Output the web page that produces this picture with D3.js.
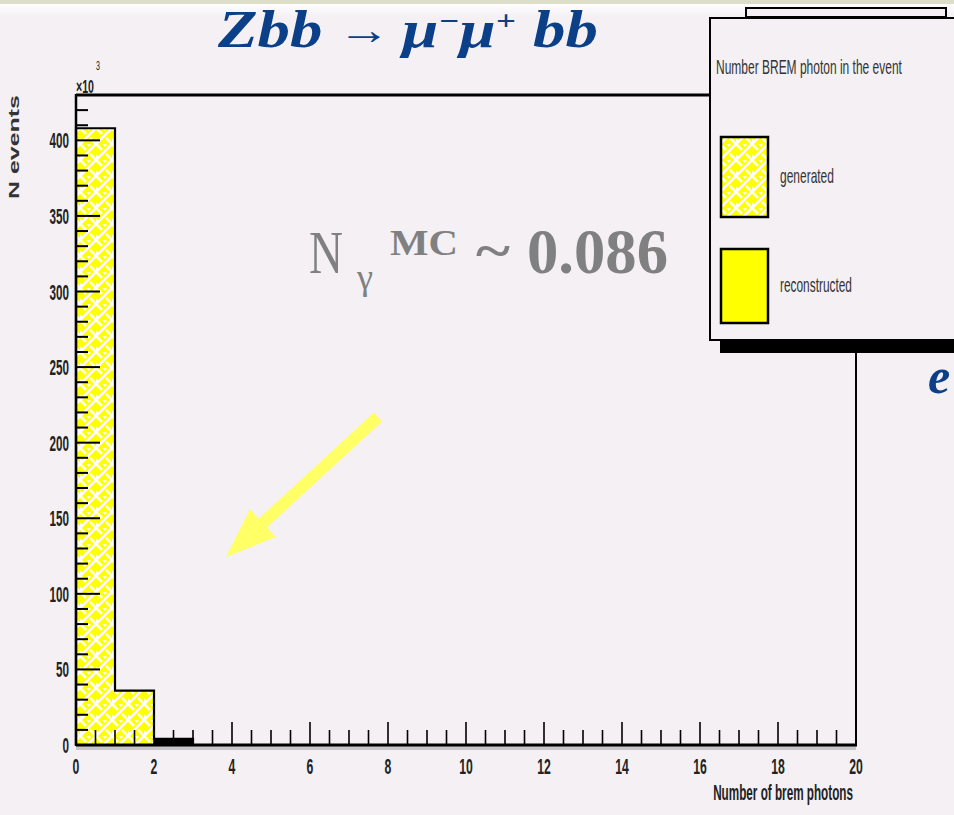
<!DOCTYPE html>
<html><head><meta charset="utf-8">
<script src="https://cdn.jsdelivr.net/npm/d3@7/dist/d3.min.js"></script>
<style>html,body{margin:0;padding:0;background:#f4f0f4;}svg{display:block;}</style>
</head><body>
<svg id="c" width="954" height="815"></svg>
<script>
// ---- data ----
const binEdges = d3.range(0, 21, 1);               // 20 bins of width 1, 0..20
const generatedCounts = [408, 36, 4, 0, 0, 0, 0, 0, 0, 0, 0, 0, 0, 0, 0, 0, 0, 0, 0, 0]; // x10^3
const reconstructedCounts = [408, 36, 4, 0, 0, 0, 0, 0, 0, 0, 0, 0, 0, 0, 0, 0, 0, 0, 0, 0];
const xTickLabels = [0, 2, 4, 6, 8, 10, 12, 14, 16, 18, 20];
const yTickLabels = [0, 50, 100, 150, 200, 250, 300, 350, 400];
const legendTitle = "Number BREM photon in the event";
const legendLabels = ["generated", "reconstructed"];
const xTitle = "Number of brem photons";
const yTitle = "N events";

const svg = d3.select("#c");
const bg = "#f4f0f4";
const labelFont = "'Liberation Sans', Arial, sans-serif";
const serif = "'Liberation Serif', 'Times New Roman', serif";

// helper: draw text, then squeeze/stretch horizontally to a target width
function fitText(parent, ax, by, target, anchor, build, extra) {
  const g = parent.append("g").attr("transform", `translate(${ax},${by})`);
  const t = g.append("text").attr("x", 0).attr("y", 0).attr("text-anchor", anchor || "start");
  build(t);
  const w = t.node().getComputedTextLength();
  const s = target / w;
  g.attr("transform", `translate(${ax},${by}) ${extra || ""} scale(${s},1)`);
  return t;
}

// background
svg.append("rect").attr("width", 954).attr("height", 815).attr("fill", bg);
const defs = svg.append("defs");
const g1 = defs.append("linearGradient").attr("id", "topg").attr("x1", 0).attr("x2", 0).attr("y1", 0).attr("y2", 1);
g1.append("stop").attr("offset", 0).attr("stop-color", "#ffffff");
g1.append("stop").attr("offset", 1).attr("stop-color", bg);
svg.append("rect").attr("x", 0).attr("y", 3).attr("width", 954).attr("height", 14).attr("fill", "url(#topg)");
svg.append("rect").attr("x", 0).attr("y", 0).attr("width", 954).attr("height", 4).attr("fill", "#dcdec8");

// hatch pattern
const pat = defs.append("pattern").attr("id", "hatch").attr("patternUnits", "userSpaceOnUse")
  .attr("width", 16).attr("height", 16);
pat.append("rect").attr("width", 16).attr("height", 16).attr("fill", "#ffff00");
pat.append("path").attr("d", "M-2,18 L18,-2 M-2,2 L2,-2 M14,18 L18,14").attr("stroke", "#fff").attr("stroke-width", 2.6);
pat.append("path").attr("d", "M-2,-2 L6,6 M10,10 L18,18 M6,-2 L10,2 M-2,10 L2,14").attr("stroke", "#fff").attr("stroke-width", 2.6);

// scales
const x = d3.scaleLinear().domain([0, 20]).range([76, 856]);
const y = d3.scaleLinear().domain([0, 430]).range([745, 95]);

// reconstructed (solid) then generated (hatched)
const bins = generatedCounts.map((v, i) => ({x0: binEdges[i], x1: binEdges[i + 1], g: v, r: reconstructedCounts[i]}));
svg.append("g").selectAll("rect").data(bins.filter(d => d.r > 0)).join("rect")
  .attr("x", d => x(d.x0)).attr("width", d => x(d.x1) - x(d.x0))
  .attr("y", d => y(d.r)).attr("height", d => y(0) - y(d.r)).attr("fill", "#ffff00");
svg.append("g").selectAll("rect").data(bins.filter(d => d.g > 0)).join("rect")
  .attr("x", d => x(d.x0)).attr("width", d => x(d.x1) - x(d.x0))
  .attr("y", d => y(d.g)).attr("height", d => y(0) - y(d.g)).attr("fill", "url(#hatch)");
svg.append("g").selectAll("rect").data(bins.filter(d => d.g > 0 && d.g < 10)).join("rect")
  .attr("x", d => x(d.x0)).attr("width", d => x(d.x1) - x(d.x0))
  .attr("y", d => y(d.g)).attr("height", d => y(0) - y(d.g)).attr("fill", "#000");
const stepPts = [];
bins.forEach(d => { stepPts.push([x(d.x0), y(d.g)]); stepPts.push([x(d.x1), y(d.g)]); });
svg.append("path").attr("d", d3.line()([[x(0), y(0)], ...stepPts, [x(20), y(0)]]))
  .attr("fill", "none").attr("stroke", "#000").attr("stroke-width", 2.2);

// frame
svg.append("line").attr("x1", x(0)).attr("x2", x(0)).attr("y1", y(430) - 1).attr("y2", y(0) + 1).attr("stroke", "#000").attr("stroke-width", 2.5);
svg.append("line").attr("x1", x(0)).attr("x2", 712).attr("y1", y(430)).attr("y2", y(430)).attr("stroke", "#000").attr("stroke-width", 3);
svg.append("line").attr("x1", x(20)).attr("x2", x(20)).attr("y1", 350).attr("y2", y(0)).attr("stroke", "#000").attr("stroke-width", 2);
svg.append("rect").attr("x", x(0)).attr("y", y(0) + 1).attr("width", x(20) - x(0)).attr("height", 4).attr("fill", "#999").attr("opacity", 0.5);
svg.append("line").attr("x1", x(0)).attr("x2", x(20) + 1).attr("y1", y(0)).attr("y2", y(0)).attr("stroke", "#000").attr("stroke-width", 3);

// x ticks
const xMinor = d3.range(0, 20.01, 0.5);
svg.append("g").selectAll("line").data(xMinor).join("line")
  .attr("x1", d => x(d)).attr("x2", d => x(d))
  .attr("y1", y(0)).attr("y2", d => y(0) - (d % 2 === 0 ? 23 : 15))
  .attr("stroke", "#000").attr("stroke-width", 1.6);
xTickLabels.forEach(d => fitText(svg, x(d), 774, String(d).length * 6.8, "middle", t => t
  .attr("font-family", labelFont).attr("font-weight", "bold").attr("font-size", 22).attr("fill", "#222").text(d)));

// y ticks
const yMinor = d3.range(0, 430, 10);
svg.append("g").selectAll("line").data(yMinor).join("line")
  .attr("x1", x(0)).attr("x2", d => x(0) + (d % 50 === 0 ? 24 : 12))
  .attr("y1", d => y(d)).attr("y2", d => y(d))
  .attr("stroke", "#000").attr("stroke-width", 2);
yTickLabels.forEach(d => fitText(svg, 69, y(d) + 8, String(d).length * 6.5, "end", t => t
  .attr("font-family", labelFont).attr("font-weight", "bold").attr("font-size", 22).attr("fill", "#222").text(d)));

// x10^3
fitText(svg, 76, 93, 18, "start", t => t.attr("font-family", labelFont).attr("font-weight", "bold")
  .attr("font-size", 19).attr("fill", "#222").text("\u00d710"));
fitText(svg, 96, 70, 4, "start", t => t.attr("font-family", labelFont)
  .attr("font-size", 12).attr("fill", "#222").text("3"));

// axis titles
fitText(svg, 19, 147, 104, "middle", t => t.attr("font-family", labelFont).attr("font-weight", "bold")
  .attr("font-size", 15).attr("fill", "#333").text(yTitle), "rotate(-90)");
fitText(svg, 853, 800, 140, "end", t => t.attr("font-family", labelFont).attr("font-weight", "bold")
  .attr("font-size", 22).attr("fill", "#222").text(xTitle));

// legend
svg.append("rect").attr("x", 746).attr("y", 8).attr("width", 200).attr("height", 9).attr("fill", bg).attr("stroke", "#000").attr("stroke-width", 2);
svg.append("rect").attr("x", 720).attr("y", 339).attr("width", 234).attr("height", 14).attr("fill", "#000");
svg.append("rect").attr("x", 710).attr("y", 18).attr("width", 244).attr("height", 322).attr("fill", bg);
svg.append("path").attr("d", "M954,18 L710,18 L710,340 L954,340").attr("fill", "none").attr("stroke", "#000").attr("stroke-width", 2);
fitText(svg, 716, 74, 186, "start", t => t.attr("font-family", labelFont).attr("font-size", 20)
  .attr("fill", "#333").text(legendTitle));
const sw = [{y0: 137, y1: 217, fill: "url(#hatch)"}, {y0: 249, y1: 323, fill: "#ffff00"}];
legendLabels.forEach((lab, i) => {
  svg.append("rect").attr("x", 721).attr("y", sw[i].y0).attr("width", 47).attr("height", sw[i].y1 - sw[i].y0)
    .attr("fill", sw[i].fill).attr("stroke", "#000").attr("stroke-width", 2.5);
  fitText(svg, 780, (sw[i].y0 + sw[i].y1) / 2 + 6, i === 0 ? 54 : 72, "start", t => t
    .attr("font-family", labelFont).attr("font-size", 20).attr("fill", "#333").text(lab));
});

// title: pieces laid out left to right, then scaled to the reference width
const titleParts = [
  {t: "Zbb", fs: 52, dy: 0, gap: 12, style: "italic", w: "bold"},
  {t: "\u2192", fs: 42, dy: -3, gap: 10, style: "normal", w: "normal"},
  {t: "\u03bc", fs: 52, dy: 0, gap: 0, style: "italic", w: "bold"},
  {t: "\u2212", fs: 28, dy: -17, gap: 0, style: "italic", w: "bold"},
  {t: "\u03bc", fs: 52, dy: 0, gap: 0, style: "italic", w: "bold"},
  {t: "+", fs: 28, dy: -17, gap: 14, style: "italic", w: "bold"},
  {t: "bb", fs: 52, dy: 0, gap: 0, style: "italic", w: "bold"}
];
const tg = svg.append("g");
let cx = 0;
titleParts.forEach(p => {
  const t = tg.append("text").attr("x", cx).attr("y", p.dy).attr("font-family", serif)
    .attr("font-weight", p.w).attr("font-style", p.style).attr("font-size", p.fs).attr("fill", "#0b3f88").text(p.t);
  cx += t.node().getComputedTextLength() + p.gap;
});
tg.attr("transform", `translate(218,47) scale(${380 / cx},1)`);

svg.append("text").attr("x", 928).attr("y", 393).attr("font-family", serif).attr("font-weight", "bold")
  .attr("font-style", "italic").attr("font-size", 50).attr("fill", "#0b3f88").text("e");

// annotation
const annColor = "#808080";
const addT = (txt, xx, yy, fs, bold, tl) => fitText(svg, xx, yy, tl, "start", t => t.attr("font-family", serif)
  .attr("font-size", fs).attr("font-weight", bold ? "bold" : "normal").attr("fill", annColor).text(txt));
addT("N", 309, 273, 62, false, 34);
addT("\u03b3", 357, 289, 36, false, 16);
addT("MC", 390, 255, 36, true, 68);
addT("~", 476, 268, 52, true, 34);
addT("0.086", 527, 273, 64, true, 141);

// arrow
const arrowPts = [[378, 417], [226, 557]];
const ang = Math.atan2(arrowPts[1][1] - arrowPts[0][1], arrowPts[1][0] - arrowPts[0][0]);
const len = Math.hypot(arrowPts[1][0] - arrowPts[0][0], arrowPts[1][1] - arrowPts[0][1]);
const hw = 6, headL = 50, headW = 19;
const ag = svg.append("g").attr("transform", `translate(${arrowPts[0][0]},${arrowPts[0][1]}) rotate(${ang * 180 / Math.PI})`);
ag.append("path").attr("d", `M0,${-hw} L${len - headL},${-hw} L${len - headL},${-headW} L${len},0 L${len - headL},${headW} L${len - headL},${hw} L0,${hw} Z`)
  .attr("fill", "#ffff66");
</script>
</body></html>
